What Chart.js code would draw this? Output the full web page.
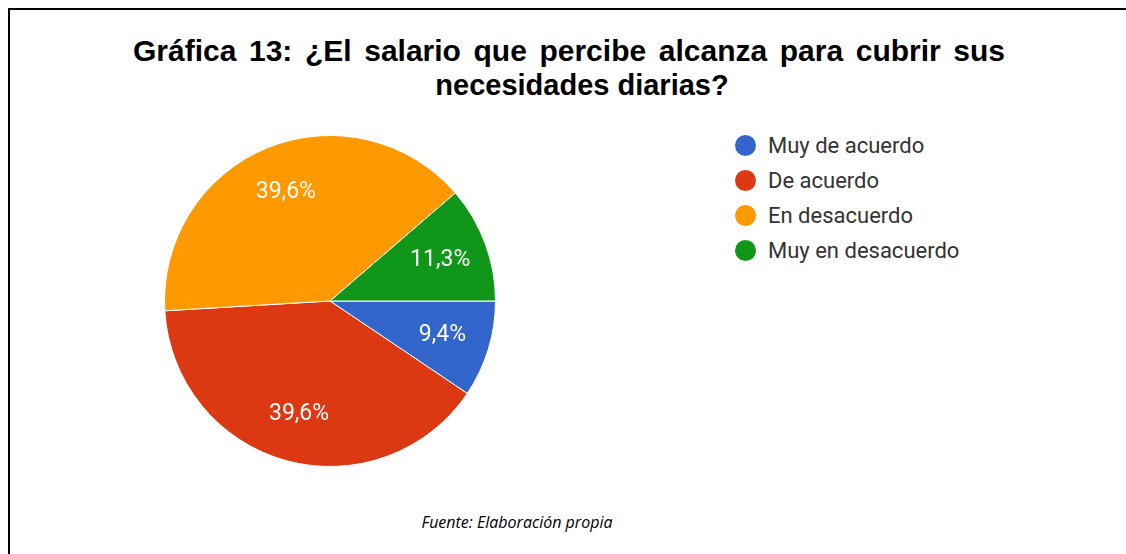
<!DOCTYPE html>
<html>
<head>
<meta charset="utf-8">
<script src="https://cdn.jsdelivr.net/npm/chart.js@4.4.1/dist/chart.umd.min.js"></script>
<style>
  body { margin: 0; width: 1126px; height: 554px; overflow: hidden; background: #fff; position: relative; }
  #frame { position: absolute; left: 8px; top: 8px; width: 1300px; height: 700px;
           border-top: 2px solid #000; border-left: 2px solid #000; }
  .title { position: absolute; font: bold 29px "Liberation Sans", Arial, sans-serif; line-height: 34px;
           color: #000; white-space: nowrap; }
  #t1 { left: 133px; top: 34px; width: 872px; font-size: 30px; text-align: justify; text-align-last: justify; white-space: normal; }
  #t2 { left: 0; top: 68px; width: 1164px; text-align: center; }
  #pie { position: absolute; left: 164px; top: 135px; }
  #legend { position: absolute; left: 735px; top: 128px; font: 22px Roboto, Arial, sans-serif; color: #333; }
  .item { height: 35px; display: flex; align-items: center; }
  .dot { width: 21px; height: 21px; border-radius: 50%; margin-right: 12px; }
  #source { position: absolute; left: 0; top: 511px; width: 1034px; text-align: center;
            font: italic 16px "Open Sans", sans-serif; color: #000; }
</style>
</head>
<body>
<div id="frame"></div>
<div class="title" id="t1">Gráfica 13: ¿El salario que percibe alcanza para cubrir sus</div>
<div class="title" id="t2">necesidades diarias?</div>
<canvas id="pie" width="332" height="332"></canvas>
<div id="legend"></div>
<div id="source">Fuente: Elaboración propia</div>
<script>
// respuestas (53 personas)
const categories = ['Muy de acuerdo', 'De acuerdo', 'En desacuerdo', 'Muy en desacuerdo'];
const counts = [5, 21, 21, 6];
const colors = ['#3366cc', '#dc3912', '#ff9900', '#109618'];

const total = counts.reduce((a, b) => a + b, 0);

// legend
const legend = document.getElementById('legend');
categories.forEach((c, i) => {
    const row = document.createElement('div');
    row.className = 'item';
    row.innerHTML = '<span class="dot" style="background:' + colors[i] + '"></span>' + c;
    legend.appendChild(row);
});

// percentage labels inside the slices
const sliceLabels = {
    id: 'sliceLabels',
    afterDatasetsDraw(chart) {
        const ctx = chart.ctx;
        const meta = chart.getDatasetMeta(0);
        ctx.save();
        ctx.fillStyle = '#fff';
        ctx.font = '23px Roboto, Arial, sans-serif';
        ctx.textAlign = 'center';
        ctx.textBaseline = 'middle';
        meta.data.forEach((arc, i) => {
            const p = arc.getProps(['x', 'y', 'startAngle', 'endAngle', 'outerRadius'], true);
            const mid = (p.startAngle + p.endAngle) / 2;
            const r = p.outerRadius * 0.71;
            const pct = (counts[i] / total * 100).toFixed(1).replace('.', ',') + '%';
            ctx.fillText(pct, p.x + Math.cos(mid) * r, p.y + Math.sin(mid) * r);
        });
        ctx.restore();
    }
};

new Chart(document.getElementById('pie'), {
    type: 'pie',
    data: {
        labels: categories,
        datasets: [{
            data: counts,
            backgroundColor: colors,
            borderColor: '#fff',
            borderWidth: 1
        }]
    },
    options: {
        responsive: false,
        animation: false,
        rotation: 90,
        plugins: {
            legend: { display: false },
            tooltip: { enabled: false }
        }
    },
    plugins: [sliceLabels]
});
</script>
</body>
</html>
